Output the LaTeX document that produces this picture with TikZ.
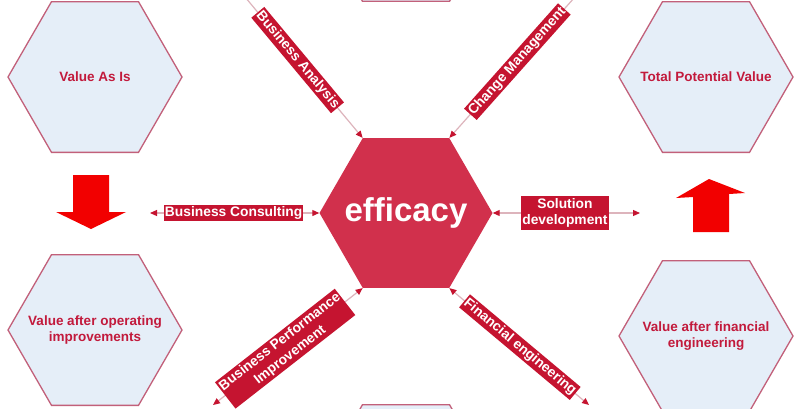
\documentclass[tikz,border=0pt]{standalone}
\usepackage{fontspec}
\setmainfont{Liberation Sans}
\usetikzlibrary{shapes.geometric,arrows.meta}
\definecolor{hexfill}{HTML}{E5EEF8}
\definecolor{hexline}{HTML}{C2607A}
\definecolor{effred}{HTML}{D1304C}
\definecolor{lblred}{HTML}{C51430}
\definecolor{txtred}{HTML}{C21A3C}
\definecolor{connline}{HTML}{DDB4BC}
\definecolor{blockred}{HTML}{F20000}
\begin{document}
\begin{tikzpicture}[x=1pt,y=-1pt,
 valhex/.style={regular polygon, regular polygon sides=6, minimum size=174pt, inner sep=0pt,
   fill=hexfill, draw=hexline, line width=1.3pt},
 valtxt/.style={text=txtred, font=\fontsize{13.5}{16}\selectfont\bfseries, align=center, inner sep=0pt},
 effhex/.style={regular polygon, regular polygon sides=6, minimum size=173pt, inner sep=0pt,
   fill=effred, draw=none},
 efftxt/.style={text=white, font=\fontsize{33}{36}\selectfont\bfseries, inner sep=0pt},
 conn/.style={draw=connline, line width=1.2pt,
   {Triangle[length=7pt,width=6pt,color=lblred,fill=lblred]}-{Triangle[length=7pt,width=6pt,color=lblred,fill=lblred]}},
 lbl/.style={fill=lblred, text=white, font=\fontsize{13.8}{16.5}\selectfont\bfseries,
   inner xsep=1.2pt, inner ysep=2pt, align=center, sloped},
 blockarrow/.style={fill=blockred, draw=none}
]
\useasboundingbox (0,0) rectangle (800,408);
\clip (0,0) rectangle (800,408);
\fill[white] (0,0) rectangle (800,408);

% value hexagons
\node[valhex] (va) at (95,77) {};
\node[valhex] (tp) at (706,77) {};
\node[valhex] (vo) at (95,330) {};
\node[valhex] (vf) at (706,336) {};
\node[valhex] (topx) at (406,-74) {};
\node[valhex] (botx) at (406,480) {};
\node[valtxt] (vaT) at (va.center) {Value As Is};
\node[valtxt] (tpT) at (tp.center) {Total Potential Value};
\node[valtxt] (voT) at (vo.center) {Value after operating\\improvements};
\node[valtxt] (vfT) at (vf.center) {Value after financial\\engineering};

% central hexagon
\node[effhex] (eff) at (406,213) {};
\node[efftxt] (effT) at (eff.center) {efficacy};

% connector ends
\coordinate (baOut) at (230,-21);
\coordinate (cmOut) at (591,-21);
\coordinate (bcOut) at (150,213);
\coordinate (sdOut) at (640,213);
\coordinate (bpOut) at (213,405);
\coordinate (feOut) at (589,405);

\draw[conn] (eff.120) -- node[lbl, pos=0.49] (ba) {Business Analysis} (baOut);
\draw[conn] (eff.60) -- node[lbl, pos=0.48] (cm) {Change Management} (cmOut);
\draw[conn] (eff.180) -- node[lbl, pos=0.506] (bc) {Business Consulting} (bcOut);
\draw[conn] (eff.0) -- node[lbl, pos=0.49] (sd) {Solution\\development} (sdOut);
\draw[conn] (eff.240) -- node[lbl, pos=0.518] (bp) {Business Performance\\Improvement} (bpOut);
\draw[conn] (eff.300) -- node[lbl, pos=0.505] (fe) {Financial engineering} (feOut);

% block arrows
\path[blockarrow] (73,175) -- (109,175) -- (109,212) -- (126,212) -- (91,229) -- (56,212) -- (73,212) -- cycle;
\path[blockarrow] (693,232) -- (729,232) -- (729,194) -- (745,193) -- (709,179) -- (676,198) -- (693,197) -- cycle;
\end{tikzpicture}
\end{document}
